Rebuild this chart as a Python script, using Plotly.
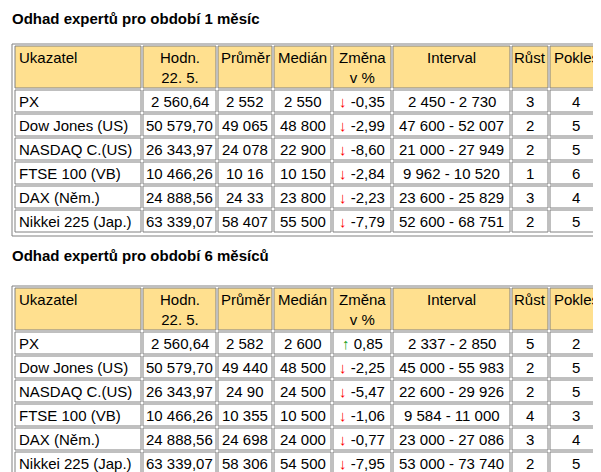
import plotly.graph_objects as go

headers = ["Ukazatel", "Hodn.<br>22. 5.", "Průměr", "Medián", "Změna<br>v %", "Interval", "Růst", "Pokles"]
indexes = ["PX", "Dow Jones (US)", "NASDAQ C.(US)", "FTSE 100 (VB)", "DAX (Něm.)", "Nikkei 225 (Jap.)"]
current = ["2 560,64", "50 579,70", "26 343,97", "10 466,26", "24 888,56", "63 339,07"]

avg_1m = ["2 552", "49 065", "24 078", "10 16", "24 33", "58 407"]
median_1m = ["2 550", "48 800", "22 900", "10 150", "23 800", "55 500"]
change_1m = [-0.35, -2.99, -8.60, -2.84, -2.23, -7.79]
interval_1m = ["2 450 - 2 730", "47 600 - 52 007", "21 000 - 27 949", "9 962 - 10 520", "23 600 - 25 829", "52 600 - 68 751"]
up_1m = [3, 2, 2, 1, 3, 2]
down_1m = [4, 5, 5, 6, 4, 5]

avg_6m = ["2 582", "49 440", "24 90", "10 355", "24 698", "58 306"]
median_6m = ["2 600", "48 500", "24 500", "10 500", "24 000", "54 500"]
change_6m = [0.85, -2.25, -5.47, -1.06, -0.77, -7.95]
interval_6m = ["2 337 - 2 850", "45 000 - 55 983", "22 600 - 29 926", "9 584 - 11 000", "23 000 - 27 086", "53 000 - 73 740"]
up_6m = [5, 2, 2, 4, 3, 2]
down_6m = [2, 5, 5, 3, 4, 5]

W, H = 601, 472
col_x = [7, 135, 210, 266, 325, 385, 504, 542]
col_w = [126, 73, 54, 57, 58, 117, 36, 52]
FONT = dict(family="Liberation Sans, Arial", size=15, color="black")
GRAY = "#808080"

fig = go.Figure()


def fmt_change(v):
    s = f"{v:.2f}".replace(".", ",")
    if v < 0:
        return f"<span style='color:#ff0000'>↓</span> {s}"
    return f"<span style='color:#20a020'>↑</span> {s}"


def cell(x, y, w, h, fill, text, left, top_align=False):
    fig.add_shape(type="rect", x0=x, x1=x + w, y0=y, y1=y + h, fillcolor=fill,
                  line=dict(color=GRAY, width=1), layer="below")
    fig.add_annotation(text=text, x=x + 2 if left else x + w / 2,
                       y=y + 1 if top_align else y + h / 2,
                       xanchor="left" if left else "center",
                       yanchor="top" if top_align else "middle",
                       showarrow=False, font=FONT, align="center")


def table(top, avg, med, chg, itv, up, down):
    fig.add_shape(type="rect", x0=4, x1=597, y0=top, y1=top + 192,
                  line=dict(color=GRAY, width=1), layer="below")
    for j, h in enumerate(headers):
        cell(col_x[j], top + 2, col_w[j], 42, "#ffe08f", h, j == 0, top_align=True)
    cols = [indexes, current, avg, med, [fmt_change(v) for v in chg], itv, up, down]
    for i in range(6):
        y = top + 46 + 24 * i
        for j, col in enumerate(cols):
            cell(col_x[j], y, col_w[j], 22, "white", str(col[i]), j == 0)


table(36, avg_1m, median_1m, change_1m, interval_1m, up_1m, down_1m)
table(278, avg_6m, median_6m, change_6m, interval_6m, up_6m, down_6m)

for txt, y in [("Odhad expertů pro období 1 měsíc", 10), ("Odhad expertů pro období 6 měsíců", 247)]:
    fig.add_annotation(text=f"<b>{txt}</b>", x=2, y=y, xanchor="left", yanchor="middle",
                       showarrow=False, font=FONT)

fig.update_xaxes(range=[0, W], visible=False, fixedrange=True)
fig.update_yaxes(range=[H, 0], visible=False, fixedrange=True)
fig.update_layout(width=W, height=H, margin=dict(l=0, r=0, t=0, b=0),
                  paper_bgcolor="white", plot_bgcolor="white", showlegend=False)
fig.write_html("out.html")
